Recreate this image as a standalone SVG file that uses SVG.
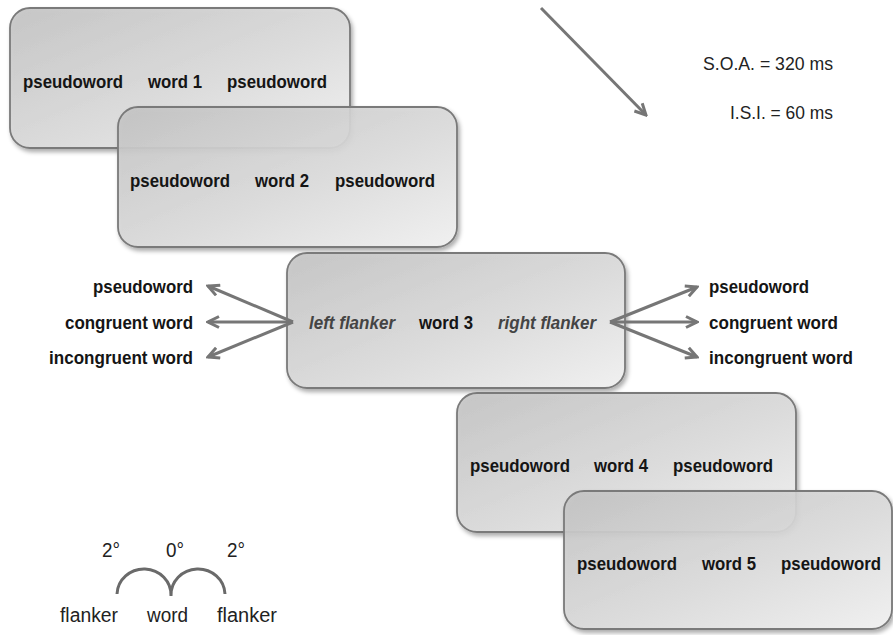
<svg xmlns="http://www.w3.org/2000/svg" width="893" height="635" viewBox="0 0 893 635">
<defs>
<linearGradient id="boxg" x1="0" y1="0" x2="1" y2="1">
<stop offset="0" stop-color="#c4c4c4"/>
<stop offset="0.55" stop-color="#dcdcdc"/>
<stop offset="1" stop-color="#f3f3f3"/>
</linearGradient>
<filter id="sh" x="-10%" y="-10%" width="125%" height="130%">
<feDropShadow dx="2" dy="3" stdDeviation="2" flood-color="#000" flood-opacity="0.35"/>
</filter>
<marker id="ah" viewBox="0 0 14 14" refX="12" refY="7" markerWidth="14" markerHeight="14" markerUnits="userSpaceOnUse" orient="auto">
<path d="M1,1.5 L12,7 L1,12.5" fill="none" stroke="#767676" stroke-width="3" stroke-linejoin="miter"/>
</marker>
</defs>
<style>
.box{fill:url(#boxg);fill-opacity:0.9;stroke:#7a7a7a;stroke-width:1.8;filter:url(#sh)}
.t{font-family:"Liberation Sans",Arial,sans-serif;font-weight:bold;font-size:18px;fill:#151515}
.it{font-family:"Liberation Sans",Arial,sans-serif;font-weight:bold;font-style:italic;font-size:18px;fill:#444}
.r{font-family:"Liberation Sans",Arial,sans-serif;font-size:18px;fill:#222}
.b{font-family:"Liberation Sans",Arial,sans-serif;font-size:20px;fill:#222}
.ar{fill:none;stroke:#767676;stroke-width:3;marker-end:url(#ah)}
</style>

<g id="box1">
<rect class="box" x="10" y="8" width="340" height="140" rx="20"/>
<text class="t" x="23" y="88" textLength="100" lengthAdjust="spacingAndGlyphs">pseudoword</text>
<text class="t" x="148" y="88" textLength="54" lengthAdjust="spacingAndGlyphs">word 1</text>
<text class="t" x="227" y="88" textLength="100" lengthAdjust="spacingAndGlyphs">pseudoword</text>
</g>

<g id="box2">
<rect class="box" x="118" y="107" width="339" height="140" rx="20"/>
<text class="t" x="130" y="187" textLength="100" lengthAdjust="spacingAndGlyphs">pseudoword</text>
<text class="t" x="255" y="187" textLength="54" lengthAdjust="spacingAndGlyphs">word 2</text>
<text class="t" x="335" y="187" textLength="100" lengthAdjust="spacingAndGlyphs">pseudoword</text>
</g>

<g id="box3">
<rect class="box" x="287" y="253" width="338" height="135" rx="20"/>
<text class="it" x="309" y="329" textLength="86" lengthAdjust="spacingAndGlyphs">left flanker</text>
<text class="t" x="419" y="329" textLength="54" lengthAdjust="spacingAndGlyphs">word 3</text>
<text class="it" x="498" y="329" textLength="98" lengthAdjust="spacingAndGlyphs">right flanker</text>
</g>

<g id="box4">
<rect class="box" x="457" y="393" width="339" height="139" rx="20"/>
<text class="t" x="470" y="472" textLength="100" lengthAdjust="spacingAndGlyphs">pseudoword</text>
<text class="t" x="594" y="472" textLength="54" lengthAdjust="spacingAndGlyphs">word 4</text>
<text class="t" x="673" y="472" textLength="100" lengthAdjust="spacingAndGlyphs">pseudoword</text>
</g>

<g id="box5">
<rect class="box" x="564" y="491" width="328" height="138" rx="20"/>
<text class="t" x="577" y="570" textLength="100" lengthAdjust="spacingAndGlyphs">pseudoword</text>
<text class="t" x="702" y="570" textLength="54" lengthAdjust="spacingAndGlyphs">word 5</text>
<text class="t" x="781" y="570" textLength="100" lengthAdjust="spacingAndGlyphs">pseudoword</text>
</g>

<g id="left-labels">
<text class="t" x="93" y="293" textLength="100" lengthAdjust="spacingAndGlyphs">pseudoword</text>
<text class="t" x="65" y="329" textLength="128" lengthAdjust="spacingAndGlyphs">congruent word</text>
<text class="t" x="49" y="364" textLength="144" lengthAdjust="spacingAndGlyphs">incongruent word</text>
</g>

<g id="right-labels">
<text class="t" x="709" y="293" textLength="100" lengthAdjust="spacingAndGlyphs">pseudoword</text>
<text class="t" x="709" y="329" textLength="129" lengthAdjust="spacingAndGlyphs">congruent word</text>
<text class="t" x="709" y="364" textLength="144" lengthAdjust="spacingAndGlyphs">incongruent word</text>
</g>

<g id="timing">
<text class="r" x="703" y="70" textLength="130" lengthAdjust="spacingAndGlyphs">S.O.A. = 320 ms</text>
<text class="r" x="730" y="119" textLength="103" lengthAdjust="spacingAndGlyphs">I.S.I. = 60 ms</text>
</g>

<g id="connectors">
<line class="ar" x1="541" y1="8" x2="646" y2="115"/>
<line class="ar" x1="293" y1="322" x2="208" y2="286"/>
<line class="ar" x1="293" y1="322" x2="208" y2="322"/>
<line class="ar" x1="293" y1="322" x2="208" y2="357"/>
<line class="ar" x1="610" y1="322" x2="697" y2="287"/>
<line class="ar" x1="610" y1="322" x2="697" y2="322"/>
<line class="ar" x1="610" y1="322" x2="697" y2="357"/>
</g>

<g id="angle-legend">
<text class="b" x="102" y="557" textLength="18" lengthAdjust="spacingAndGlyphs">2°</text>
<text class="b" x="166" y="557" textLength="18" lengthAdjust="spacingAndGlyphs">0°</text>
<text class="b" x="227" y="557" textLength="18" lengthAdjust="spacingAndGlyphs">2°</text>
<path d="M117,594 A27,26 0 0 1 171,596 A27,26 0 0 1 225,594" fill="none" stroke="#6a6a6a" stroke-width="3"/>
<text class="b" x="60" y="622" textLength="58" lengthAdjust="spacingAndGlyphs">flanker</text>
<text class="b" x="147" y="622" textLength="41" lengthAdjust="spacingAndGlyphs">word</text>
<text class="b" x="217" y="622" textLength="60" lengthAdjust="spacingAndGlyphs">flanker</text>
</g>
</svg>
